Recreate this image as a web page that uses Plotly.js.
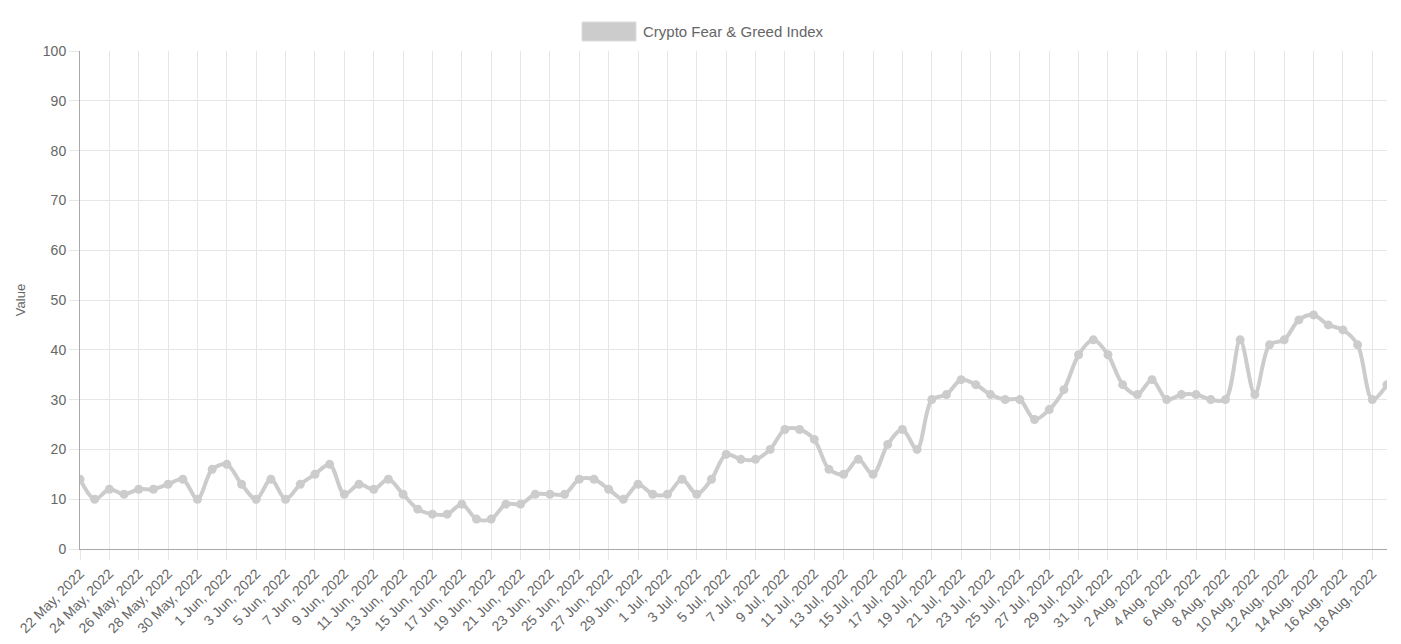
<!DOCTYPE html>
<html>
<head>
<meta charset="utf-8">
<script src="https://cdn.plot.ly/plotly-3.0.1.min.js"></script>
<style>
  html, body { margin: 0; padding: 0; background: #fff; }
  #chart { width: 1401px; height: 644px; }
</style>
</head>
<body>
<div id="chart"></div>
<script>
const seriesName = "Crypto Fear & Greed Index";
const yAxisLabel = "Value";

const dates = [
  "2022-05-22","2022-05-23","2022-05-24","2022-05-25","2022-05-26","2022-05-27","2022-05-28","2022-05-29","2022-05-30","2022-05-31",
  "2022-06-01","2022-06-02","2022-06-03","2022-06-04","2022-06-05","2022-06-06","2022-06-07","2022-06-08","2022-06-09","2022-06-10",
  "2022-06-11","2022-06-12","2022-06-13","2022-06-14","2022-06-15","2022-06-16","2022-06-17","2022-06-18","2022-06-19","2022-06-20",
  "2022-06-21","2022-06-22","2022-06-23","2022-06-24","2022-06-25","2022-06-26","2022-06-27","2022-06-28","2022-06-29","2022-06-30",
  "2022-07-01","2022-07-02","2022-07-03","2022-07-04","2022-07-05","2022-07-06","2022-07-07","2022-07-08","2022-07-09","2022-07-10",
  "2022-07-11","2022-07-12","2022-07-13","2022-07-14","2022-07-15","2022-07-16","2022-07-17","2022-07-18","2022-07-19","2022-07-20",
  "2022-07-21","2022-07-22","2022-07-23","2022-07-24","2022-07-25","2022-07-26","2022-07-27","2022-07-28","2022-07-29","2022-07-30",
  "2022-07-31","2022-08-01","2022-08-02","2022-08-03","2022-08-04","2022-08-05","2022-08-06","2022-08-07","2022-08-08","2022-08-09",
  "2022-08-10","2022-08-11","2022-08-12","2022-08-13","2022-08-14","2022-08-15","2022-08-16","2022-08-17","2022-08-18","2022-08-19"
];

const values = [
  14,10,12,11,12,12,13,14,10,16,
  17,13,10,14,10,13,15,17,11,13,
  12,14,11,8,7,7,9,6,6,9,
  9,11,11,11,14,14,12,10,13,11,
  11,14,11,14,19,18,18,20,24,24,
  22,16,15,18,15,21,24,20,30,31,
  34,33,31,30,30,26,28,32,39,42,
  39,33,31,34,30,31,31,30,30,42,
  31,41,42,46,47,45,44,41,30,33
];

const firstTick = "2022-05-22";
const xRange = ["2022-05-22", "2022-08-19"];

const FONT = "Liberation Sans, Arial, Helvetica, sans-serif";
const TXT = "#666666";
const GRID = "#e6e6e6";
const LINEC = "rgb(204,204,204)";

const trace = {
  type: "scatter",
  mode: "lines+markers",
  name: seriesName,
  x: dates,
  y: values,
  line: { color: LINEC, width: 4, shape: "spline", smoothing: 0.9 },
  marker: { color: LINEC, size: 9 },
  showlegend: false,
  hoverinfo: "x+y"
};

const layout = {
  width: 1401,
  height: 644,
  margin: { l: 80, r: 14, t: 51, b: 95 },
  paper_bgcolor: "#ffffff",
  plot_bgcolor: "#ffffff",
  font: { family: FONT, size: 14, color: TXT },
  showlegend: false,
  xaxis: {
    type: "date",
    range: xRange,
    tick0: firstTick,
    dtick: 2 * 86400000,
    tickformat: "%-d %b, %Y",
    tickangle: -45,
    showgrid: true,
    gridcolor: GRID,
    gridwidth: 1,
    ticks: "outside",
    ticklen: 10,
    tickcolor: GRID,
    showline: true,
    linecolor: "#a8a8a8",
    linewidth: 1,
    zeroline: false,
    tickfont: { family: FONT, size: 14, color: TXT }
  },
  yaxis: {
    range: [0, 100],
    dtick: 10,
    tick0: 0,
    showgrid: true,
    gridcolor: GRID,
    gridwidth: 1,
    ticks: "outside",
    ticklen: 10,
    tickcolor: GRID,
    showline: true,
    linecolor: "#a8a8a8",
    linewidth: 1,
    zeroline: false,
    tickfont: { family: FONT, size: 14, color: TXT },
    title: { text: yAxisLabel, font: { family: FONT, size: 13, color: TXT }, standoff: 14 }
  },
  shapes: [{
    type: "rect", xref: "paper", yref: "paper",
    x0: 0.3841, x1: 0.4254, y0: 1.0201, y1: 1.0582,
    fillcolor: LINEC, line: { color: "#dcdcdc", width: 1 }
  }],
  annotations: [{
    xref: "paper", yref: "paper",
    x: 0.4290, y: 1.0392, xanchor: "left", yanchor: "middle",
    text: seriesName, showarrow: false,
    font: { family: FONT, size: 15, color: TXT }
  }]
};

Plotly.newPlot("chart", [trace], layout, { displayModeBar: false, responsive: false });
</script>
</body>
</html>
